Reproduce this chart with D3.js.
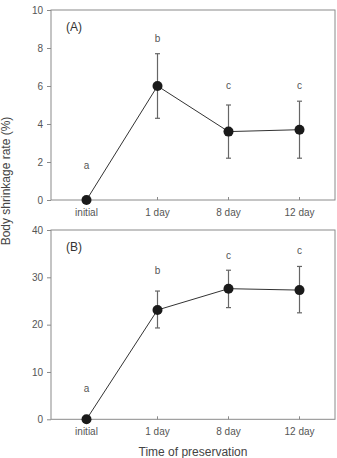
<!DOCTYPE html>
<html><head><meta charset="utf-8">
<script src="https://cdn.jsdelivr.net/npm/d3@7"></script>
<style>body{margin:0;background:#fff}svg{display:block}text{font-family:"Liberation Sans",Arial,sans-serif}</style>
</head><body>
<svg id="c" width="337" height="458"></svg>
<script>
const categories = ["initial", "1 day", "8 day", "12 day"];
const meanA = [0, 6.0, 3.6, 3.7];
const lowA  = [0, 4.3, 2.2, 2.2];
const highA = [0, 7.7, 5.0, 5.2];
const letterA = ["a", "b", "c", "c"];
const letterYA = [1.8, 8.5, 6.05, 6.05];
const ticksA = [0, 2, 4, 6, 8, 10];

const meanB = [0, 23.1, 27.6, 27.3];
const lowB  = [0, 19.3, 23.6, 22.5];
const highB = [0, 27.1, 31.5, 32.3];
const letterB = ["a", "b", "c", "c"];
const letterYB = [6.5, 31.4, 34.6, 35.6];
const ticksB = [0, 10, 20, 30, 40];

const svg = d3.select("#c");
const x = d3.scaleBand().domain(categories).range([51, 335]).padding(0);
const cx = d => x(d) + x.bandwidth() / 2;

function panel(top, bottom, maxV, ticks, mean, low, high, letters, letterY, tag) {
  const y = d3.scaleLinear().domain([0, maxV]).range([bottom, top]);
  const g = svg.append("g");
  g.append("rect").attr("x", 51).attr("y", top).attr("width", 284).attr("height", bottom - top)
    .attr("fill", "none").attr("stroke", "#8a8a8a").attr("stroke-width", 1);
  const ya = g.append("g").attr("transform", "translate(51,0)")
    .call(d3.axisLeft(y).tickValues(ticks).tickSize(4).tickPadding(4));
  ya.select(".domain").remove();
  ya.selectAll("line").attr("stroke", "#8a8a8a");
  ya.selectAll("text").attr("fill", "#555").style("font-size", "10px");
  const xa = g.append("g").attr("transform", `translate(0,${bottom})`)
    .call(d3.axisBottom(x).tickSize(-3).tickPadding(9));
  xa.select(".domain").remove();
  xa.selectAll("line").attr("stroke", "#8a8a8a");
  xa.selectAll("text").attr("fill", "#555").style("font-size", "10px");
  categories.forEach((c, i) => {
    if (high[i] === low[i]) return;
    g.append("line").attr("x1", cx(c)).attr("x2", cx(c)).attr("y1", y(low[i])).attr("y2", y(high[i]))
      .attr("stroke", "#666").attr("stroke-width", 1.2);
    [low[i], high[i]].forEach(v => {
      g.append("line").attr("x1", cx(c) - 2.5).attr("x2", cx(c) + 2.5).attr("y1", y(v)).attr("y2", y(v))
        .attr("stroke", "#666").attr("stroke-width", 1.2);
    });
  });
  g.append("path").datum(mean)
    .attr("d", d3.line().x((d, i) => cx(categories[i])).y(d => y(d)))
    .attr("fill", "none").attr("stroke", "#333").attr("stroke-width", 1);
  g.selectAll("circle.p").data(mean).join("circle")
    .attr("cx", (d, i) => cx(categories[i])).attr("cy", d => y(d)).attr("r", 5)
    .attr("fill", "#1a1a1a");
  g.selectAll("text.l").data(letters).join("text")
    .attr("x", (d, i) => cx(categories[i])).attr("y", (d, i) => y(letterY[i]))
    .attr("dy", "0.35em").attr("text-anchor", "middle")
    .attr("fill", "#555").style("font-size", "10px").text(d => d);
  g.append("text").attr("x", 66).attr("y", top + 17).attr("dy", "0.35em")
    .attr("fill", "#333").style("font-size", "12px").text(tag);
}

panel(10, 200, 10, ticksA, meanA, lowA, highA, letterA, letterYA, "(A)");
panel(230, 419.3, 40, ticksB, meanB, lowB, highB, letterB, letterYB, "(B)");

svg.append("text").attr("transform", "translate(6,181) rotate(-90)")
  .attr("text-anchor", "middle").attr("dy", "0.35em")
  .attr("fill", "#444").style("font-size", "12px").text("Body shrinkage rate (%)");
svg.append("text").attr("x", 193).attr("y", 452).attr("dy", "0.35em")
  .attr("text-anchor", "middle").attr("fill", "#444").style("font-size", "12px")
  .text("Time of preservation");
</script>
</body></html>
